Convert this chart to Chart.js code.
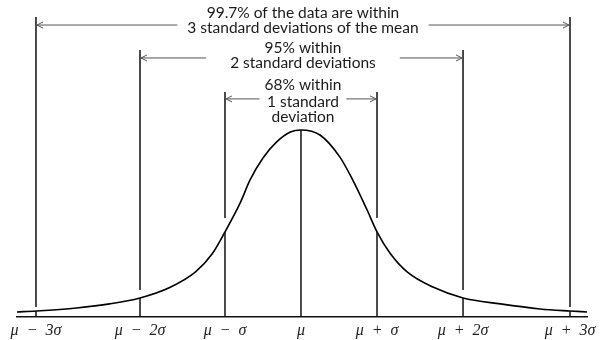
<!DOCTYPE html>
<html>
<head>
<meta charset="utf-8">
<script src="https://cdn.jsdelivr.net/npm/chart.js@4.4.1/dist/chart.umd.min.js"></script>
<style>
  html, body { margin: 0; background: #fff; }
</style>
</head>
<body>
<canvas id="bell" width="600" height="340"></canvas>
<script>
// sigma positions on the axis and their labels
const sigmaTicks = [-3, -2, -1, 0, 1, 2, 3];
const tickLabels = ['μ − 3σ', 'μ − 2σ', 'μ − σ', 'μ', 'μ + σ', 'μ + 2σ', 'μ + 3σ'];

// bell curve (x in sigma, height relative to the peak)
const curveX = [-3.2, -3, -2.61, -2.29, -2, -1.65, -1.35, -1.15, -1, -0.8, -0.67, -0.5, -0.32, -0.14, 0,
                0.25, 0.51, 0.68, 0.87, 1, 1.15, 1.35, 1.65, 2, 2.35, 2.72, 3, 3.2];
const curveY = [0.027, 0.032, 0.048, 0.070, 0.102, 0.158, 0.240, 0.338, 0.455, 0.610, 0.733, 0.850, 0.936, 0.989, 1.0,
                0.973, 0.856, 0.733, 0.572, 0.455, 0.342, 0.241, 0.160, 0.102, 0.070, 0.043, 0.032, 0.027];

// coverage brackets, outermost first
const bracketSigma = [3, 2, 1];
const bracketText = [
  ['99.7% of the data are within', '3 standard deviations of the mean'],
  ['95% within', '2 standard deviations'],
  ['68% within', '1 standard', 'deviation']
];

// layout: the source drawing spaces the sigma lines unevenly, so the x axis is warped
const WARP_V = [-3.2, -3, -2, -1, 0, 1, 2, 3, 3.2];
const WARP_F = [0, 0.0333, 0.2158, 0.3649, 0.4982, 0.6316, 0.7825, 0.9702, 1];
const BRACKET_LAYOUT = [
  { top: 1.604, arrow: 1.561, gap: 10, cut: 4,  lines: [1.626, 1.545] },
  { top: 1.428, arrow: 1.385, gap: 24, cut: 8,  lines: [1.439, 1.358] },
  { top: 1.203, arrow: 1.166, gap: 5,  cut: 14, lines: [1.241, 1.150, 1.070] }
];

function interp(v, from, to){
  let i = 0;
  while (i < from.length - 2 && v > from[i + 1]) i++;
  return to[i] + (v - from[i]) / (from[i + 1] - from[i]) * (to[i + 1] - to[i]);
}

class WarpScale extends Chart.LinearScale {
  buildTicks(){ return sigmaTicks.map(v => ({ value: v })); }
  getPixelForValue(value){
    if (value === null || isNaN(value)) return NaN;
    return this.getPixelForDecimal(interp(value, WARP_V, WARP_F));
  }
  getValueForPixel(pixel){ return interp(this.getDecimalForPixel(pixel), WARP_F, WARP_V); }
}
WarpScale.id = 'warp';
WarpScale.defaults = Chart.LinearScale.defaults;
Chart.register(WarpScale);

function arrow(ctx, x1, x2, y){
  const dir = Math.sign(x2 - x1);
  ctx.beginPath();
  ctx.moveTo(x1, y); ctx.lineTo(x2, y);
  ctx.moveTo(x2 - dir * 6, y - 3); ctx.lineTo(x2, y); ctx.lineTo(x2 - dir * 6, y + 3);
  ctx.stroke();
}

const bracketsPlugin = {
  id: 'brackets',
  afterDatasetsDraw(chart){
    const { ctx, scales: { x, y } } = chart;
    const pts = chart.getDatasetMeta(0).data;
    const base = y.getPixelForValue(0);
    const cx = x.getPixelForValue(0) + 2;
    ctx.save();

    // mean line from the peak down
    ctx.strokeStyle = '#111'; ctx.lineWidth = 1.5;
    const peak = pts[curveX.indexOf(0)];
    ctx.beginPath(); ctx.moveTo(peak.x, peak.y); ctx.lineTo(peak.x, base); ctx.stroke();

    ctx.font = '15.5px Lato';
    ctx.textAlign = 'center'; ctx.textBaseline = 'middle';

    bracketSigma.forEach((k, b) => {
      const L = BRACKET_LAYOUT[b];
      const top = y.getPixelForValue(L.top);
      [-k, k].forEach(s => {
        const p = pts[curveX.indexOf(s)];
        ctx.strokeStyle = '#111'; ctx.lineWidth = 1.5;
        ctx.beginPath();
        ctx.moveTo(p.x, top); ctx.lineTo(p.x, p.y - L.cut);
        ctx.moveTo(p.x, p.y); ctx.lineTo(p.x, base);
        ctx.stroke();
      });

      const half = Math.max(...bracketText[b].map(t => ctx.measureText(t).width)) / 2 + L.gap;
      const ay = y.getPixelForValue(L.arrow);
      ctx.strokeStyle = '#555'; ctx.lineWidth = 1;
      arrow(ctx, cx - half, x.getPixelForValue(-k) + 1, ay);
      arrow(ctx, cx + half, x.getPixelForValue(k) - 1, ay);

      ctx.fillStyle = '#1a1a1a';
      bracketText[b].forEach((t, i) => ctx.fillText(t, cx, y.getPixelForValue(L.lines[i])));
    });
    ctx.restore();
  }
};

new Chart(document.getElementById('bell'), {
  type: 'line',
  data: {
    datasets: [{
      data: curveX.map((v, i) => ({ x: v, y: curveY[i] })),
      borderColor: '#000', borderWidth: 1.6, pointRadius: 0,
      cubicInterpolationMode: 'monotone', fill: false
    }]
  },
  options: {
    responsive: false, animation: false, devicePixelRatio: 1,
    layout: { padding: { left: 17, right: 13, top: 17, bottom: 0 } },
    plugins: { legend: { display: false }, tooltip: { enabled: false } },
    scales: {
      x: {
        type: 'warp', min: -3.2, max: 3.2,
        afterFit: s => { s.height = 23; },
        grid: { display: false, drawTicks: false },
        border: { display: true, color: '#111', width: 1.5 },
        ticks: {
          autoSkip: false, maxRotation: 0, padding: 4, color: '#222',
          font: { family: '"Liberation Serif", serif', style: 'italic', size: 16 },
          callback: (v, i) => tickLabels[i].replace(/ ([−+]) /, '\u2002$1\u2002')
        }
      },
      y: { display: false, min: 0, max: 1.604 }
    }
  },
  plugins: [bracketsPlugin]
});
</script>
</body>
</html>
